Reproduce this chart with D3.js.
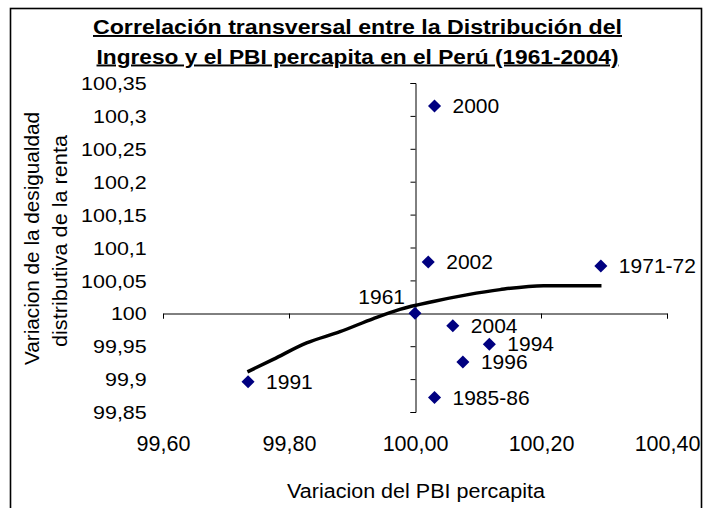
<!DOCTYPE html>
<html>
<head>
<meta charset="utf-8">
<script src="https://cdn.jsdelivr.net/npm/d3@7"></script>
<style>
  body { margin: 0; background: #fff; }
  svg { display: block; font-family: "Liberation Sans", Arial, sans-serif; }
</style>
</head>
<body>
<svg id="viz" width="703" height="508"></svg>
<script>
// tick values
const xTicks = [99.6, 99.8, 100.0, 100.2, 100.4]
const yTicks = [99.85, 99.9, 99.95, 100, 100.05, 100.1, 100.15, 100.2, 100.25, 100.3, 100.35]

// scatter points (year, PBI variation, inequality variation)
const years = ['1961', '1971-72', '1985-86', '1991', '1994', '1996', '2000', '2002', '2004']
const pbi = [100.000, 100.295, 100.031, 99.735, 100.118, 100.076, 100.031, 100.021, 100.060]
const desig = [100.000, 100.072, 99.872, 99.896, 99.953, 99.926, 100.315, 100.078, 99.981]

// trend line as drawn in the picture
const trendPbi = [99.734, 99.775, 99.828, 99.881, 99.934, 99.976, 100.029, 100.082, 100.135, 100.204, 100.296]
const trendDesig = [99.911, 99.930, 99.955, 99.972, 99.992, 100.006, 100.018, 100.028, 100.036, 100.042, 100.042]

const TITLE = ['Correlación transversal entre la Distribución del', 'Ingreso y el PBI percapita en el Perú (1961-2004)']
const X_TITLE = 'Variacion del PBI percapita'
const Y_TITLE = ['Variacion de la desigualdad', 'distributiva de la renta']

const NAVY = '#000080'

const svg = d3.select('#viz')

const x = d3.scaleLinear().domain([99.6, 100.4]).range([163, 667])
const y = d3.scaleLinear().domain([99.85, 100.35]).range([412, 83])

const locale = d3.formatLocale({ decimal: ',', thousands: '.', grouping: [3], currency: ['', ''] })
const fmtX = locale.format('.2f')
const fmtY = locale.format('.5~r')

// outer chart border
svg.append('rect')
    .attr('x', 10.5).attr('y', 8.5)
    .attr('width', 691).attr('height', 530)
    .attr('fill', 'none')
    .attr('stroke', '#000')
    .attr('stroke-width', 1.6)

// title
svg.selectAll('.title')
    .data(TITLE)
    .enter().append('text')
        .attr('class', 'title')
        .attr('x', 357.5)
        .attr('y', (d, i) => 34 + i * 29.5)
        .attr('text-anchor', 'middle')
        .attr('textLength', (d, i) => i === 0 ? 529 : 522)
        .attr('lengthAdjust', 'spacingAndGlyphs')
        .style('font-weight', 'bold')
        .style('font-size', '19.5px')
        .style('text-decoration', 'underline')
        .text(d => d)

// axis lines crossing at (100, 100)
const xAxis = svg.append('g')
    .attr('transform', `translate(0,${Math.round(y(100)) + 0.5})`)
    .call(d3.axisBottom(x).tickValues(xTicks).tickSize(5).tickSizeOuter(5).tickFormat(''))
const yAxis = svg.append('g')
    .attr('transform', `translate(${Math.round(x(100)) + 0.5},0)`)
    .call(d3.axisLeft(y).tickValues(yTicks).tickSize(5).tickSizeOuter(5).tickFormat(''))
for (const g of [xAxis, yAxis]) {
    g.selectAll('path, line').attr('stroke', '#000').attr('stroke-width', 1)
}

// tick labels sit at the low edges of the plot
const xLabels = svg.append('g')
    .attr('transform', 'translate(0,412)')
    .call(d3.axisBottom(x).tickValues(xTicks).tickSize(0).tickFormat(fmtX))
xLabels.select('.domain').remove()
xLabels.selectAll('text')
    .attr('y', 39).attr('dy', 0)
    .attr('fill', '#000')
    .style('font-size', '21.5px')
    .style('font-family', '"Liberation Sans", Arial, sans-serif')

const yLabels = svg.append('g')
    .attr('transform', 'translate(146.7,0)')
    .call(d3.axisLeft(y).tickValues(yTicks).tickSize(0).tickFormat(fmtY))
yLabels.select('.domain').remove()
yLabels.selectAll('text')
    .attr('x', 0).attr('dy', '0.36em')
    .attr('transform', 'scale(1.16,1)')
    .attr('fill', '#000')
    .style('font-size', '18.5px')
    .style('font-family', '"Liberation Sans", Arial, sans-serif')

// axis titles
svg.append('text')
    .attr('x', 416).attr('y', 498)
    .attr('text-anchor', 'middle')
    .attr('textLength', 258)
    .attr('lengthAdjust', 'spacingAndGlyphs')
    .style('font-size', '20px')
    .text(X_TITLE)

svg.selectAll('.ytitle')
    .data(Y_TITLE)
    .enter().append('text')
        .attr('class', 'ytitle')
        .attr('transform', (d, i) => `translate(${39 + i * 28},${i === 0 ? 238.5 : 241}) rotate(-90)`)
        .attr('text-anchor', 'middle')
        .attr('textLength', (d, i) => i === 0 ? 253 : 212)
        .attr('lengthAdjust', 'spacingAndGlyphs')
        .style('font-size', '20px')
        .text(d => d)

// trend line
const trend = trendPbi.map((v, i) => [v, trendDesig[i]])
svg.append('path')
    .datum(trend)
    .attr('d', d3.line().x(d => x(d[0])).y(d => y(d[1])).curve(d3.curveMonotoneX))
    .attr('fill', 'none')
    .attr('stroke', '#000')
    .attr('stroke-width', 3.5)

// points
const points = years.map((yr, i) => ({ yr, px: pbi[i], dy: desig[i] }))
svg.selectAll('.pt')
    .data(points)
    .enter().append('path')
        .attr('class', 'pt')
        .attr('d', d3.symbol(d3.symbolSquare, 85))
        .attr('transform', d => `translate(${x(d.px)},${y(d.dy)}) rotate(45)`)
        .attr('fill', NAVY)

svg.selectAll('.lbl')
    .data(points)
    .enter().append('text')
        .attr('class', 'lbl')
        .attr('x', d => d.yr === '1961' ? x(d.px) - 10 : x(d.px) + 18)
        .attr('y', d => d.yr === '1961' ? y(d.dy) - 9 : y(d.dy) + 7)
        .attr('text-anchor', d => d.yr === '1961' ? 'end' : 'start')
        .style('font-size', '21px')
        .text(d => d.yr)
</script>
</body>
</html>
